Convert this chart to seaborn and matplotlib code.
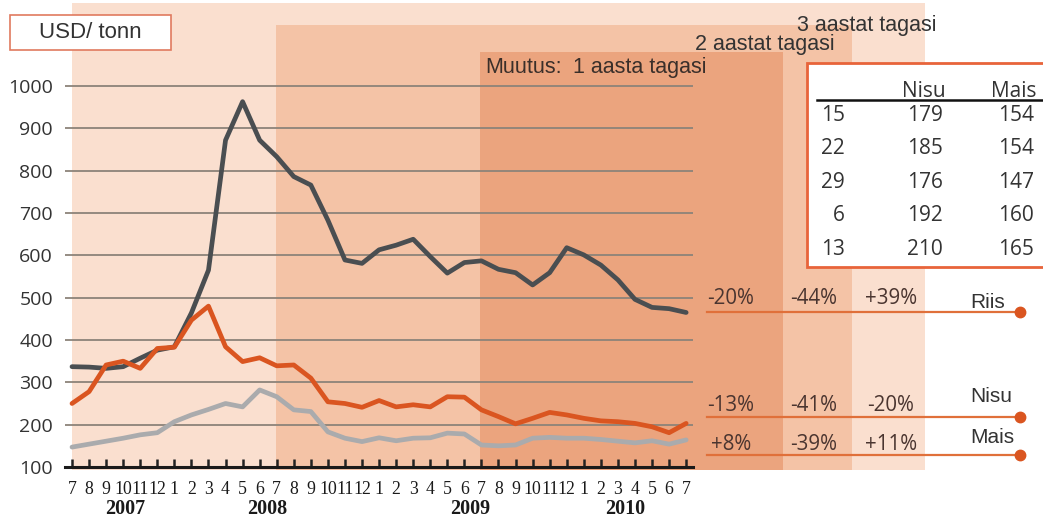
import numpy as np
import pandas as pd
import matplotlib
matplotlib.use("Agg")
import matplotlib.pyplot as plt
import seaborn as sns
from matplotlib.patches import Rectangle
from matplotlib.lines import Line2D

# ---------------- data ----------------
months = ['7', '8', '9', '10', '11', '12', '1', '2', '3', '4', '5', '6',
          '7', '8', '9', '10', '11', '12', '1', '2', '3', '4', '5', '6',
          '7', '8', '9', '10', '11', '12', '1', '2', '3', '4', '5', '6', '7']
years = ['2007', '2008', '2009', '2010']

riis = [337, 336, 333, 337, 357, 376, 384, 464, 565, 872, 963, 872, 833, 786, 766, 683, 589, 581, 613,
        624, 638, 597, 558, 583, 587, 567, 559, 530, 559, 618, 601, 577, 542, 496, 477, 474, 465]
nisu = [250, 278, 341, 350, 333, 380, 383, 447, 480, 384, 349, 358, 339, 341, 310, 254, 250, 241, 257,
        242, 247, 242, 266, 265, 235, 219, 202, 215, 229, 223, 215, 209, 207, 203, 195, 181, 203]
mais = [147, 154, 161, 168, 176, 181, 207, 223, 236, 250, 242, 282, 266, 235, 231, 183, 168, 160, 169,
        162, 168, 169, 180, 178, 152, 150, 152, 168, 170, 168, 168, 165, 161, 157, 162, 154, 164]

series_names = ['Riis', 'Nisu', 'Mais']
change_1y = ['-20%', '-13%', '+8%']
change_2y = ['-44%', '-41%', '-39%']
change_3y = ['+39%', '-20%', '+11%']

table_days = ['15', '22', '29', '6', '13']
table_nisu = [179, 185, 176, 192, 210]
table_mais = [154, 154, 147, 160, 165]

yticks = [100, 200, 300, 400, 500, 600, 700, 800, 900, 1000]

# ---------------- figure ----------------
W, H = 1043, 521
fig = plt.figure(figsize=(W / 100, H / 100), dpi=100, facecolor='white')


def fx(x):
    return x / W


def fy(y):
    return 1 - y / H


def frect(x0, y0, x1, y1, **kw):
    r = Rectangle((fx(x0), fy(y1)), (x1 - x0) / W, (y1 - y0) / H,
                  transform=fig.transFigure, **kw)
    fig.add_artist(r)
    return r


SANS = ['Liberation Sans', 'DejaVu Sans']
OPEN = ['Open Sans', 'DejaVu Sans']
SERIF = ['Liberation Serif', 'DejaVu Serif']
TXT = '#333333'

# background period panels (3, 2, 1 years back)
frect(72, 3, 925, 470, facecolor='#FADFCF', edgecolor='none', zorder=-5)
frect(276, 25, 852, 470, facecolor='#F4C3A6', edgecolor='none', zorder=-4)
frect(480, 52, 783, 470, facecolor='#EBA47E', edgecolor='none', zorder=-3)

# main axes
px_per_val = (467 - 86) / 900.0
ymax = 1010
top_px = 467 - (ymax - 100) * px_per_val
step = 17.06
ax = fig.add_axes([fx(65), fy(467), (693 - 65) / W, (467 - top_px) / H])
ax.patch.set_facecolor('none')

x_idx = np.arange(len(months))
df = pd.DataFrame({
    'idx': np.tile(x_idx, 3),
    'value': riis + nisu + mais,
    'series': ['Riis'] * len(riis) + ['Nisu'] * len(nisu) + ['Mais'] * len(mais),
})
palette = {'Riis': '#4A4E51', 'Nisu': '#DA5520', 'Mais': '#AAABAD'}
sns.lineplot(data=df, x='idx', y='value', hue='series', hue_order=['Mais', 'Riis', 'Nisu'],
             palette=palette, linewidth=3.4, legend=False, ax=ax)
for ln in ax.lines:
    ln.set_solid_joinstyle('round')
    ln.set_solid_capstyle('round')
    ln.set_zorder(3)

ax.set_xlim(-7 / step, (693 - 72) / step)
ax.set_ylim(100, ymax)
ax.set_yticks(yticks)
ax.set_yticklabels([str(v) for v in yticks], fontfamily=OPEN, fontsize=14, color=TXT)
ax.set_xticks(x_idx)
ax.set_xticklabels(months, fontfamily=SERIF, fontsize=12.8, color='#1a1a1a')
ax.tick_params(axis='y', length=0, pad=8.6)
ax.tick_params(axis='x', direction='in', length=5.5, width=1.8, color='#222222', pad=10)
ax.set_xlabel('')
ax.set_ylabel('')
ax.yaxis.grid(True, color='#8C8379', linewidth=1.3)
ax.xaxis.grid(False)
ax.set_axisbelow(True)
for s in ['top', 'right', 'left']:
    ax.spines[s].set_visible(False)
ax.spines['bottom'].set_color('#1a1a1a')
ax.spines['bottom'].set_linewidth(2.2)
ax.spines['bottom'].set_zorder(4)

# year labels
for yr, xp in zip(years, [125, 267, 470, 625]):
    fig.text(fx(xp), fy(521 - 7), yr, ha='center', va='baseline', fontfamily=SERIF,
             fontsize=14.5, fontweight='bold', color='#1a1a1a')

# unit box
frect(10, 15, 171, 50, facecolor='white', edgecolor='#E07A5F', linewidth=1.2, zorder=5)
fig.text(fx(90), fy(32.5), 'USD/ tonn', ha='center', va='center', fontfamily=SANS,
         fontsize=16, color=TXT, zorder=6)

# period headings
fig.text(fx(867), fy(31), '3 aastat tagasi', ha='center', va='baseline', fontfamily=SANS,
         fontsize=15.5, color=TXT)
fig.text(fx(765), fy(50), '2 aastat tagasi', ha='center', va='baseline', fontfamily=SANS,
         fontsize=15.5, color=TXT)
fig.text(fx(485), fy(73), 'Muutus:', ha='left', va='baseline', fontfamily=SANS,
         fontsize=15.5, color='#3a2f2a')
fig.text(fx(640), fy(73), '1 aasta tagasi', ha='center', va='baseline', fontfamily=SANS,
         fontsize=15.5, color='#3a2f2a')

# change rows
row_line_y = [312, 417, 455]
row_txt_y = [304, 411, 450]
label_y = [308, 402, 443]
for i, name in enumerate(series_names):
    ly = row_line_y[i]
    fig.add_artist(Line2D([fx(707), fx(1020)], [fy(ly), fy(ly)], transform=fig.transFigure,
                          color='#E0703A', linewidth=1.6, zorder=4))
    fig.add_artist(Line2D([fx(1020)], [fy(ly)], transform=fig.transFigure, marker='o',
                          markersize=7.5, color='#DA5520', linestyle='none', zorder=5))
    for xc, val in zip([731, 814, 891], [change_1y[i], change_2y[i], change_3y[i]]):
        fig.text(fx(xc), fy(row_txt_y[i]), val, ha='center', va='baseline', fontfamily=OPEN,
                 fontsize=14.8, color='#4a3530')
    fig.text(fx(970), fy(label_y[i]), name, ha='left', va='baseline', fontfamily=SANS,
             fontsize=15, color=TXT)

# price table
frect(807, 63, 1070, 267, facecolor='white', edgecolor='#E8643A', linewidth=2.0, zorder=5)
fig.text(fx(924), fy(97), 'Nisu', ha='center', va='baseline', fontfamily=OPEN, fontsize=15,
         color=TXT, zorder=6)
fig.text(fx(1014), fy(97), 'Mais', ha='center', va='baseline', fontfamily=OPEN, fontsize=15,
         color=TXT, zorder=6)
fig.add_artist(Line2D([fx(817), fx(1043)], [fy(100), fy(100)], transform=fig.transFigure,
                      color='#111111', linewidth=1.8, zorder=6))
for k, (d, n, m) in enumerate(zip(table_days, table_nisu, table_mais)):
    yb = 121 + 33.5 * k
    fig.text(fx(845), fy(yb), d, ha='right', va='baseline', fontfamily=OPEN, fontsize=15,
             color=TXT, zorder=6)
    fig.text(fx(943), fy(yb), str(n), ha='right', va='baseline', fontfamily=OPEN, fontsize=15,
             color=TXT, zorder=6)
    fig.text(fx(1034), fy(yb), str(m), ha='right', va='baseline', fontfamily=OPEN, fontsize=15,
             color=TXT, zorder=6)

fig.savefig('out.png', dpi=100, facecolor='white')
